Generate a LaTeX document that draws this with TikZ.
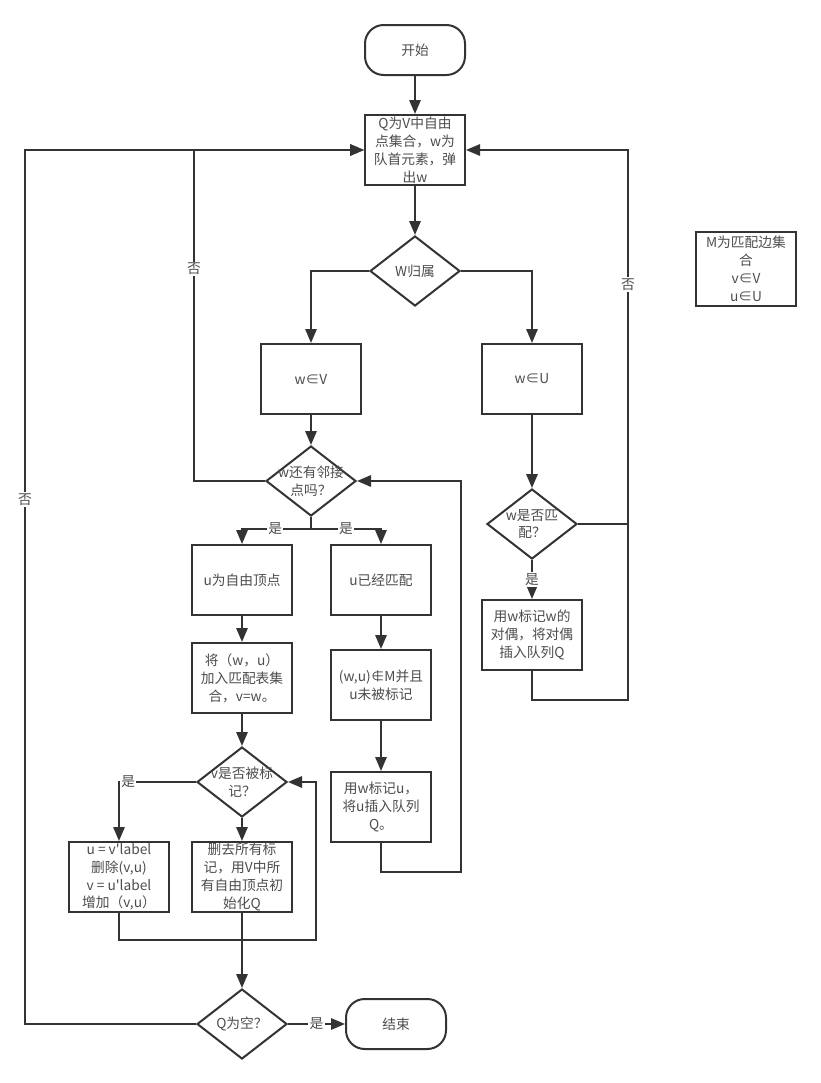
\documentclass[tikz,border=0pt]{standalone}
\usepackage{fontspec}
\setmainfont{Noto Sans CJK SC}
\usetikzlibrary{
  arrows.meta,
  shapes.geometric,
  chains,
  positioning,
  scopes
}
\definecolor{linec}{HTML}{333333}
\definecolor{textc}{HTML}{4D4D4D}
\newcommand{\cnsize}{\fontsize{10.3pt}{13.4pt}\selectfont}

\begin{document}
\begin{tikzpicture}[
      x=0.75pt, y=-0.75pt,
      process/.style={
         rectangle,
         minimum width=75pt,
         minimum height=52.5pt,
         inner sep=0pt,
         draw,
         align=center,
         text=textc,
         font=\cnsize
      },
      terminal/.style={
         rectangle,
         rounded corners=14pt,
         minimum width=75pt,
         minimum height=37.5pt,
         draw,
         text=textc,
         font=\cnsize
      },
      dtext/.style={align=center, text=textc, font=\cnsize, inner sep=0pt},
      decision/.style={
         diamond,
         minimum width=67.5pt,
         minimum height=52.5pt,
         inner sep=0pt,
         draw,
         label={[dtext]center:{#1}}
      },
      lbl/.style={fill=white, inner sep=1pt, text=textc, font=\cnsize},
      line width=1.5pt, draw=linec,
      tip/.style={-{Triangle[length=10.5pt,width=8.5pt]}},
      hv path/.style={to path={-| (\tikztotarget)}},
      vh path/.style={to path={|- (\tikztotarget)}}
    ]
    \path[use as bounding box, fill=white] (0,0) rectangle (821,1083);

    \node (start)  [terminal] at (415,50) {开始};
    \node (qbox)   [process] at (415,150) {Q为V中自由\\点集合，w为\\队首元素，弹\\出w};
    \node (belong) [decision={W归属}] at (415,271) {};
    \node (wv)     [process] at (311,379) {w∈V};
    \node (wu)     [process] at (532,379) {w∈U};
    \node (adj)    [decision={w还有邻接\\点吗？}] at (311,481) {};
    \node (ufree)  [process] at (242,580) {u为自由顶点};
    \node (umatch) [process] at (381,580) {u已经匹配};
    \node (addm)   [process] at (242,678) {将（w，u）\\加入匹配表集\\合，v=w。};
    \node (notin)  [process] at (381,685) {(w,u)∉M并且\\u未被标记};
    \node (vmark)  [decision={v是否被标\\记？}] at (242,782) {};
    \node (marku)  [process] at (381,807) {用w标记u，\\将u插入队列\\Q。};
    \node (flip)   [process] at (119,877) {u = v\textquotesingle label\\删除(v,u)\\v = u\textquotesingle label\\增加（v,u）};
    \node (reset)  [process] at (242,877) {删去所有标\\记，用V中所\\有自由顶点初\\始化Q};
    \node (qempty) [decision={Q为空？}] at (242,1024) {};
    \node (finish) [terminal] at (396,1024) {结束};
    \node (wmatch) [decision={w是否匹\\配？}] at (532,524) {};
    \node (dual)   [process] at (532,635) {用w标记w的\\对偶，将对偶\\插入队列Q};
    \node (note)   [process, minimum height=55.5pt] at (746,269) {M为匹配边集\\合\\v∈V\\u∈U};

    \coordinate (adjsplit)   at (311,529);
    \coordinate (adjback)    at (194,481);
    \coordinate (emptyback)  at (25,1024);
    \coordinate (flipback)   at (316,940);
    \coordinate (markback)   at (461,872);
    \coordinate (matchback)  at (628,524);
    \coordinate (dualback)   at (628,700);

  { [start chain]
       \chainin (start);
       \chainin (qbox)    [join=by tip];
       \chainin (belong)  [join=by tip];
  }
  { [start chain]
       \chainin (belong);
       \chainin (wv)      [join=by {hv path,tip}];
       \chainin (adj)     [join=by tip];
  }
  { [start chain]
       \chainin (belong);
       \chainin (wu)      [join=by {hv path,tip}];
       \chainin (wmatch)  [join=by tip];
  }
  { [start chain]
       \chainin (ufree);
       \chainin (addm)    [join=by tip];
       \chainin (vmark)   [join=by tip];
       \chainin (reset)   [join=by tip];
       \chainin (qempty)  [join=by tip];
  }
  { [start chain]
       \chainin (umatch);
       \chainin (notin)   [join=by tip];
       \chainin (marku)   [join=by tip];
  }

    \draw (adj) -- (adjsplit);
    \draw[tip] (adjsplit) -| node[lbl,pos=0.26] {是} (ufree);
    \draw[tip] (adjsplit) -| node[lbl,pos=0.25] {是} (umatch);
    \draw[tip] (adj) -- (adjback) |- node[lbl,pos=0.32] {否} (qbox);
    \draw[tip] (qempty) -- (emptyback) |- node[lbl,pos=0.3] {否} (qbox);
    \draw[tip] (qempty) -- node[lbl] {是} (finish);
    \draw[tip] (vmark) -| node[lbl,pos=0.44] {是} (flip);
    \draw[tip] (flip) |- (flipback) |- (vmark);
    \draw[tip] (marku) |- (markback) |- (adj);
    \draw[tip] (wmatch) -- (matchback) |- node[lbl,pos=0.32] {否} (qbox);
    \draw[tip] (wmatch) -- node[lbl] {是} (dual);
    \draw (dual) |- (dualback) -- (matchback);
\end{tikzpicture}
\end{document}
